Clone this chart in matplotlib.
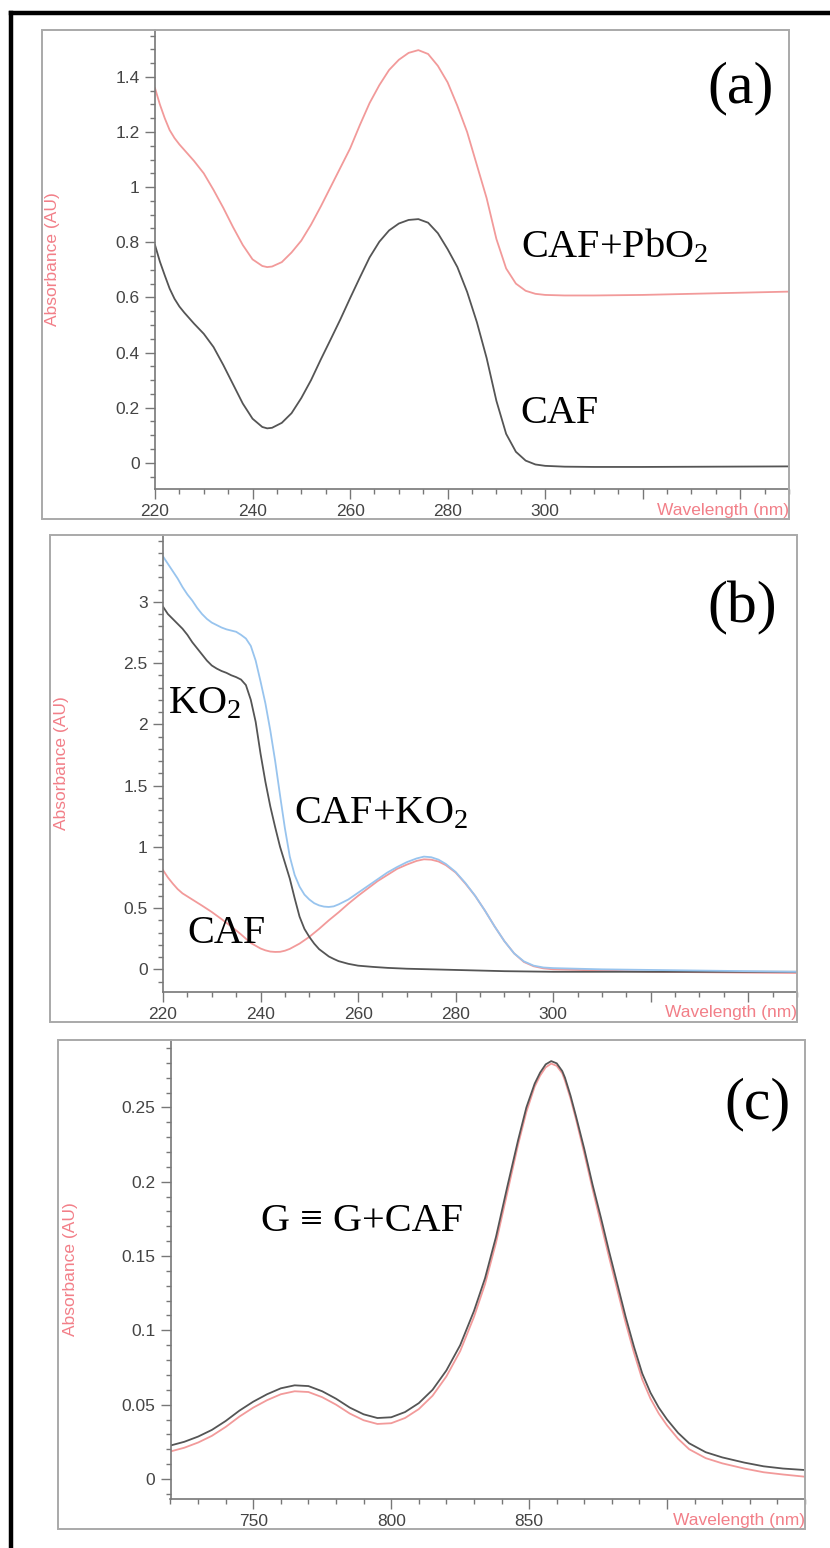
import matplotlib
matplotlib.use("Agg")
import matplotlib.pyplot as plt
from matplotlib.ticker import FixedLocator, FixedFormatter, MultipleLocator
from matplotlib.patches import Rectangle
from matplotlib.lines import Line2D

plt.rcParams["font.family"] = ["Liberation Sans", "DejaVu Sans"]
plt.rcParams["mathtext.fontset"] = "custom"
plt.rcParams["mathtext.rm"] = "Liberation Serif"
plt.rcParams["mathtext.default"] = "regular"

# ---- panel (a): CAF and CAF+PbO2 ----
wl_a = [220, 221, 222, 223, 224, 225, 226, 228, 230, 232, 234, 236, 238, 240, 242, 243, 244,
        246, 248, 250, 252, 254, 256, 258, 260, 262, 264, 266, 268, 270, 272, 274, 276, 278,
        280, 282, 284, 286, 288, 290, 292, 294, 296, 298, 300, 304, 310, 320, 335, 350]
caf_a = [0.79, 0.73, 0.68, 0.632, 0.595, 0.567, 0.545, 0.505, 0.468, 0.42, 0.355, 0.285, 0.215,
         0.16, 0.13, 0.125, 0.127, 0.145, 0.18, 0.235, 0.30, 0.375, 0.447, 0.52, 0.597, 0.672,
         0.745, 0.802, 0.843, 0.868, 0.881, 0.884, 0.871, 0.833, 0.775, 0.71, 0.62, 0.51, 0.38,
         0.225, 0.105, 0.04, 0.008, -0.006, -0.011, -0.014, -0.015, -0.015, -0.014, -0.013]
caf_pbo2_a = [1.359, 1.30, 1.25, 1.207, 1.178, 1.155, 1.135, 1.095, 1.05, 0.99, 0.925, 0.855,
              0.79, 0.738, 0.714, 0.710, 0.712, 0.728, 0.763, 0.806, 0.864, 0.93, 1.0, 1.07,
              1.14, 1.225, 1.305, 1.37, 1.425, 1.462, 1.487, 1.497, 1.483, 1.44, 1.38, 1.295,
              1.20, 1.08, 0.96, 0.812, 0.705, 0.65, 0.624, 0.613, 0.609, 0.607, 0.607, 0.609,
              0.615, 0.621]

# ---- panel (b): CAF, KO2, CAF+KO2 ----
wl_b_blue = [220, 221, 222, 223, 224, 225, 226, 227, 228, 229, 230, 231, 232, 233, 234, 235,
             236, 237, 238, 239, 240, 241, 242, 243, 244, 245, 246, 247, 248, 249, 250, 251,
             252, 253, 254, 255, 256, 258, 260, 262, 264, 266, 268, 270, 272, 273.5, 275, 276.5,
             278, 280, 282, 284, 286, 288, 290, 292, 294, 296, 298, 300, 305, 310, 330, 350]
caf_ko2_b = [3.37, 3.31, 3.25, 3.19, 3.12, 3.06, 3.01, 2.95, 2.90, 2.86, 2.83, 2.81, 2.79, 2.775,
             2.765, 2.755, 2.73, 2.70, 2.64, 2.52, 2.35, 2.17, 1.95, 1.70, 1.42, 1.15, 0.92, 0.77,
             0.675, 0.61, 0.57, 0.54, 0.522, 0.512, 0.509, 0.514, 0.53, 0.57, 0.625, 0.68, 0.735,
             0.79, 0.835, 0.875, 0.905, 0.92, 0.915, 0.895, 0.86, 0.795, 0.705, 0.60, 0.48, 0.35,
             0.23, 0.13, 0.065, 0.03, 0.015, 0.01, 0.005, 0.0, -0.01, -0.02]
wl_b_ko2 = [220, 221, 222, 223, 224, 225, 226, 227, 228, 229, 230, 231, 232, 233, 234, 235, 236,
            237, 238, 239, 240, 241, 242, 243, 244, 245, 246, 247, 248, 249, 250, 251, 252, 253,
            254, 255, 256, 258, 260, 263, 266, 270, 280, 290, 300, 320, 350]
ko2_b = [2.96, 2.90, 2.86, 2.82, 2.78, 2.73, 2.67, 2.62, 2.57, 2.52, 2.48, 2.455, 2.435, 2.42,
         2.40, 2.385, 2.365, 2.32, 2.20, 2.02, 1.76, 1.53, 1.33, 1.16, 1.0, 0.87, 0.74, 0.58,
         0.43, 0.33, 0.265, 0.21, 0.165, 0.135, 0.105, 0.085, 0.067, 0.045, 0.03, 0.02, 0.012,
         0.005, -0.005, -0.015, -0.02, -0.02, -0.02]
wl_b_caf = [220, 221, 222, 223, 224, 225, 226, 228, 230, 232, 234, 236, 238, 240, 241, 242, 243,
            244, 245, 246, 248, 250, 252, 254, 256, 258, 260, 262, 264, 266, 268, 270, 272,
            273.5, 275, 276.5, 278, 280, 282, 284, 286, 288, 290, 292, 294, 296, 298, 300, 310,
            320, 350]
caf_b = [0.81, 0.75, 0.70, 0.655, 0.62, 0.595, 0.57, 0.52, 0.468, 0.41, 0.35, 0.285, 0.215, 0.17,
         0.155, 0.145, 0.142, 0.143, 0.152, 0.167, 0.21, 0.265, 0.33, 0.40, 0.465, 0.535, 0.60,
         0.66, 0.72, 0.77, 0.82, 0.855, 0.885, 0.898, 0.895, 0.88, 0.85, 0.79, 0.70, 0.60, 0.48,
         0.35, 0.23, 0.13, 0.06, 0.025, 0.008, 0.0, -0.01, -0.02, -0.03]

# ---- panel (c): G and G+CAF ----
wl_c = [720, 725, 730, 735, 740, 745, 750, 755, 760, 765, 770, 775, 780, 785, 790, 795, 800,
        805, 810, 815, 820, 825, 830, 834, 838, 842, 846, 849, 852, 854, 856, 858, 860, 862,
        863, 865, 867, 870, 873, 876, 879, 882, 885, 888, 891, 894, 897, 900, 904, 908, 914,
        920, 928, 935, 942, 950]
g_c = [0.0225, 0.025, 0.0285, 0.033, 0.039, 0.046, 0.052, 0.057, 0.061, 0.063, 0.0625, 0.059,
       0.054, 0.048, 0.0435, 0.041, 0.0415, 0.045, 0.051, 0.06, 0.073, 0.090, 0.113, 0.135,
       0.163, 0.196, 0.228, 0.25, 0.266, 0.2735, 0.279, 0.2812, 0.2797, 0.2745, 0.270, 0.258,
       0.244, 0.222, 0.198, 0.176, 0.153, 0.131, 0.109, 0.089, 0.071, 0.058, 0.048, 0.040,
       0.031, 0.024, 0.018, 0.0145, 0.011, 0.0085, 0.007, 0.006]
g_caf_c = [0.0185, 0.021, 0.0245, 0.029, 0.035, 0.042, 0.048, 0.053, 0.057, 0.059, 0.0585,
           0.055, 0.050, 0.044, 0.0395, 0.037, 0.0375, 0.041, 0.047, 0.056, 0.069, 0.086, 0.109,
           0.131, 0.159, 0.192, 0.225, 0.247, 0.264, 0.2715, 0.277, 0.2795, 0.278, 0.273, 0.268,
           0.256, 0.242, 0.219, 0.195, 0.172, 0.149, 0.127, 0.105, 0.085, 0.067, 0.054, 0.044,
           0.036, 0.027, 0.020, 0.014, 0.0105, 0.007, 0.0045, 0.003, 0.0015]

# tick positions / labels
xt_ab = [220, 240, 260, 280, 300, 320, 340]
xl_ab = ["220", "240", "260", "280", "300", "", ""]
yt_a = [0, 0.2, 0.4, 0.6, 0.8, 1.0, 1.2, 1.4]
yl_a = ["0", "0.2", "0.4", "0.6", "0.8", "1", "1.2", "1.4"]
yt_b = [0, 0.5, 1.0, 1.5, 2.0, 2.5, 3.0]
yl_b = ["0", "0.5", "1", "1.5", "2", "2.5", "3"]
xt_c = [750, 800, 850, 900]
xl_c = ["750", "800", "850", ""]
yt_c = [0, 0.05, 0.1, 0.15, 0.2, 0.25]
yl_c = ["0", "0.05", "0.1", "0.15", "0.2", "0.25"]

W, H = 830, 1548
fig = plt.figure(figsize=(W / 100, H / 100), dpi=100)

RED = "#f29a9a"
LBL = "#f27f88"
DARK = "#555555"
BLUE = "#98c4ee"
SERIF = ["Liberation Serif", "DejaVu Serif"]


def fx(x):
    return x / W


def fy(y):
    return 1 - y / H


# outer black frame
fig.add_artist(Line2D([fx(11), fx(11)], [fy(13), fy(1548)], color="black", lw=3.2,
                      transform=fig.transFigure))
fig.add_artist(Line2D([fx(11), fx(830)], [fy(13), fy(13)], color="black", lw=3.2,
                      transform=fig.transFigure))


def make_panel(box, area, xlim, ylim, xt, xl, xminor, yt, yl, yminor, ylab_x, xlab_y):
    l, t, r, b = box
    fig.add_artist(Rectangle((fx(l), fy(b)), (r - l) / W, (b - t) / H, fill=False,
                             ec="#a9a9a9", lw=1.4, transform=fig.transFigure))
    al, at, ar, ab = area
    ax = fig.add_axes([fx(al), fy(ab), (ar - al) / W, (ab - at) / H])
    ax.set_xlim(*xlim)
    ax.set_ylim(*ylim)
    for s in ["top", "right"]:
        ax.spines[s].set_visible(False)
    for s in ["left", "bottom"]:
        ax.spines[s].set_color("#777777")
        ax.spines[s].set_linewidth(1.2)
    ax.xaxis.set_major_locator(FixedLocator(xt))
    ax.xaxis.set_major_formatter(FixedFormatter(xl))
    ax.xaxis.set_minor_locator(MultipleLocator(xminor))
    ax.yaxis.set_major_locator(FixedLocator(yt))
    ax.yaxis.set_major_formatter(FixedFormatter(yl))
    ax.yaxis.set_minor_locator(MultipleLocator(yminor))
    ax.tick_params(which="major", length=7, width=1, color="#777777", labelcolor="#444444",
                   labelsize=12.5, pad=4)
    ax.tick_params(which="minor", length=3.5, width=1, color="#777777")
    ax.patch.set_alpha(0)
    fig.text(fx(ylab_x), fy((at + ab) / 2), "Absorbance (AU)", rotation=90, color=LBL,
             fontsize=12.5, ha="center", va="center")
    fig.text(fx(ar), fy(xlab_y), "Wavelength (nm)", color=LBL, fontsize=12.5,
             ha="right", va="center")
    return ax


# (a)
ax = make_panel((42, 30, 789, 519), (155, 30, 789, 489), (220, 350), (-0.095, 1.57),
                xt_ab, xl_ab, 5, yt_a, yl_a, 0.05, 52, 511)
ax.plot(wl_a, caf_pbo2_a, color=RED, lw=1.3)
ax.plot(wl_a, caf_a, color=DARK, lw=1.3)
ax.text(340, 1.36, "(a)", family=SERIF, fontsize=43, ha="center", va="center")
ax.text(295, 0.747, "CAF+PbO$_2$", family=SERIF, fontsize=29, ha="left", va="baseline")
ax.text(295, 0.145, "CAF", family=SERIF, fontsize=29, ha="left", va="baseline")

# (b)
ax = make_panel((50, 535, 797, 1022), (163, 535, 797, 992), (220, 350), (-0.185, 3.545),
                xt_ab, xl_ab, 5, yt_b, yl_b, 0.1, 61, 1013)
ax.plot(wl_b_caf, caf_b, color=RED, lw=1.3)
ax.plot(wl_b_ko2, ko2_b, color=DARK, lw=1.3)
ax.plot(wl_b_blue, caf_ko2_b, color=BLUE, lw=1.3)
ax.text(338.7, 2.95, "(b)", family=SERIF, fontsize=43, ha="center", va="center")
ax.text(221.1, 2.09, "KO$_2$", family=SERIF, fontsize=29, ha="left", va="baseline")
ax.text(246.8, 1.19, "CAF+KO$_2$", family=SERIF, fontsize=29, ha="left", va="baseline")
ax.text(225.1, 0.215, "CAF", family=SERIF, fontsize=29, ha="left", va="baseline")

# (c)
ax = make_panel((58, 1040, 805, 1529), (170.5, 1040, 805, 1499), (720, 950), (-0.0135, 0.2954),
                xt_c, xl_c, 10, yt_c, yl_c, 0.01, 70, 1520)
ax.plot(wl_c, g_caf_c, color=RED, lw=1.3)
ax.plot(wl_c, g_c, color=DARK, lw=1.3)
ax.text(932.7, 0.252, "(c)", family=SERIF, fontsize=43, ha="center", va="center")
ax.text(752.9, 0.1666, "G \u2261 G+CAF", family=SERIF, fontsize=29, ha="left", va="baseline")

fig.savefig("out.png", dpi=100)
